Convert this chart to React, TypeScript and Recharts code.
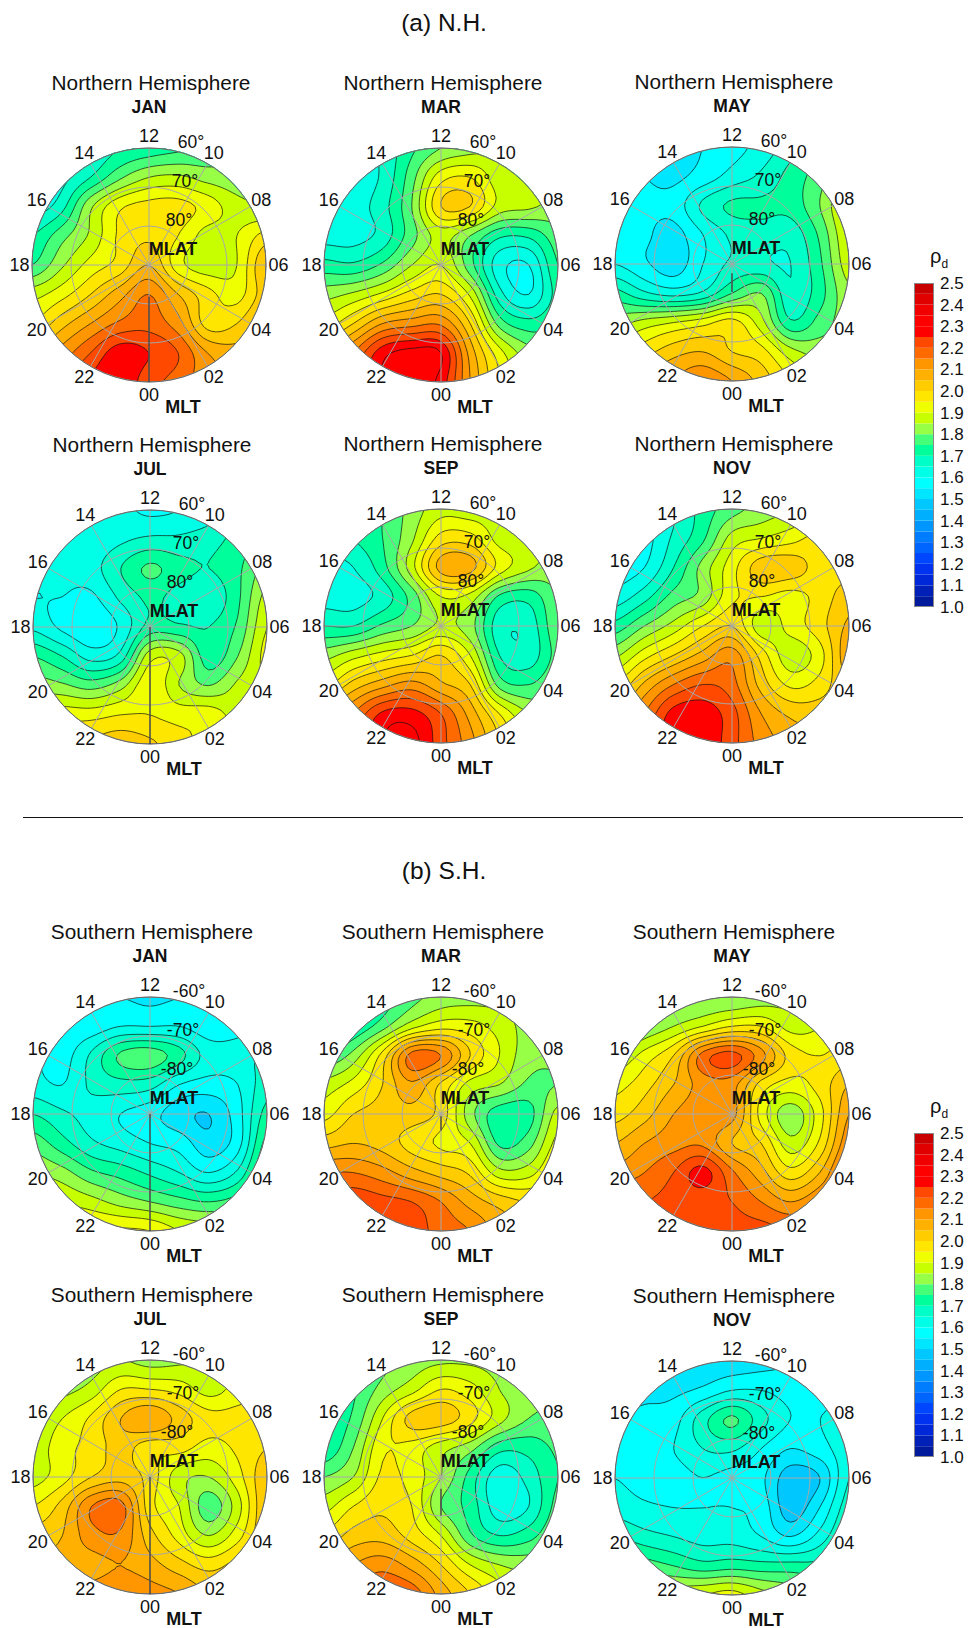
import React from 'react';
import { ScatterChart, Scatter, XAxis, YAxis, RadarChart, Radar, PolarGrid, PolarAngleAxis, PolarRadiusAxis, BarChart, Bar } from 'recharts';

const FONT = '"Liberation Sans", Arial, sans-serif';
const MLT_LABELS = ['12', '14', '16', '18', '20', '22', '00', '02', '04', '06', '08', '10'];
const LAT_RINGS = [80, 70, 60];
const BAR_TICKS = [1, 1.1, 1.2, 1.3, 1.4, 1.5, 1.6, 1.7, 1.8, 1.9, 2, 2.1, 2.2, 2.3, 2.4, 2.5];
const BAND_COLORS = ['#001a9b', '#0020b8', '#0028d8', '#0032f0', '#0046ff', '#0064ff', '#007dff', '#0096ff', '#00b0ff', '#00c8ff', '#00e6ff', '#00ffff', '#00ffe6', '#00ffc8', '#00ff9b', '#46ff78', '#96ff46', '#c8ff00', '#f0ff00', '#ffe600', '#ffcc00', '#ffb000', '#ff9600', '#ff6a00', '#ff4800', '#ff0000', '#ff0000', '#f00000', '#e00000', '#c80000'];

// Value grids: rows from MLT 12 side to MLT 00 side, columns from MLT 18 side to MLT 06 side.
const N_JAN = [
  [1.55, 1.6, 1.65, 1.7, 1.72, 1.74, 1.76, 1.8, 1.85],
  [1.58, 1.63, 1.7, 1.79, 1.85, 1.86, 1.83, 1.82, 1.85],
  [1.62, 1.68, 1.84, 1.94, 1.97, 1.97, 1.93, 1.87, 1.85],
  [1.7, 1.78, 1.86, 1.96, 1.99, 1.95, 1.88, 1.9, 1.97],
  [1.75, 1.84, 1.92, 1.97, 2.05, 1.92, 1.87, 1.9, 2.05],
  [1.88, 1.93, 2.0, 2.08, 2.15, 2.05, 1.97, 1.93, 2.03],
  [1.95, 2.03, 2.1, 2.16, 2.18, 2.12, 1.98, 2.0, 2.08],
  [2.05, 2.12, 2.2, 2.28, 2.25, 2.2, 2.1, 2.07, 2.1],
  [2.12, 2.18, 2.26, 2.29, 2.22, 2.18, 2.12, 2.1, 2.1],
];
const N_MAR = [
  [1.6, 1.62, 1.66, 1.74, 1.8, 1.83, 1.85, 1.85, 1.85],
  [1.62, 1.62, 1.66, 1.78, 1.93, 1.95, 1.87, 1.87, 1.85],
  [1.63, 1.63, 1.68, 1.8, 2.0, 2.0, 1.88, 1.86, 1.83],
  [1.63, 1.63, 1.67, 1.78, 1.87, 1.8, 1.71, 1.71, 1.78],
  [1.72, 1.71, 1.76, 1.85, 1.9, 1.77, 1.62, 1.6, 1.75],
  [1.83, 1.86, 1.91, 1.97, 2.0, 1.89, 1.67, 1.6, 1.72],
  [1.92, 2.0, 2.1, 2.13, 2.14, 2.0, 1.78, 1.72, 1.75],
  [2.05, 2.15, 2.28, 2.32, 2.3, 2.08, 1.92, 1.82, 1.8],
  [2.1, 2.2, 2.3, 2.34, 2.28, 2.1, 1.95, 1.85, 1.8],
];
const N_MAY = [
  [1.54, 1.54, 1.54, 1.55, 1.58, 1.62, 1.68, 1.76, 1.9],
  [1.55, 1.55, 1.54, 1.57, 1.62, 1.66, 1.72, 1.78, 1.88],
  [1.56, 1.56, 1.57, 1.66, 1.71, 1.71, 1.72, 1.8, 1.92],
  [1.57, 1.56, 1.53, 1.6, 1.66, 1.68, 1.67, 1.76, 1.9],
  [1.6, 1.56, 1.52, 1.6, 1.66, 1.66, 1.65, 1.74, 1.88],
  [1.72, 1.66, 1.63, 1.66, 1.75, 1.8, 1.66, 1.73, 1.84],
  [1.83, 1.87, 1.9, 1.93, 1.97, 1.87, 1.71, 1.77, 1.83],
  [1.93, 1.98, 2.03, 2.05, 2.0, 1.97, 1.87, 1.83, 1.83],
  [2.0, 2.05, 2.1, 2.14, 2.1, 2.03, 1.95, 1.88, 1.85],
];
const N_JUL = [
  [1.6, 1.6, 1.6, 1.61, 1.59, 1.6, 1.62, 1.7, 1.78],
  [1.62, 1.6, 1.61, 1.64, 1.66, 1.66, 1.68, 1.72, 1.78],
  [1.62, 1.61, 1.63, 1.7, 1.76, 1.72, 1.7, 1.74, 1.82],
  [1.6, 1.6, 1.59, 1.66, 1.71, 1.68, 1.66, 1.74, 1.87],
  [1.64, 1.59, 1.56, 1.61, 1.72, 1.71, 1.7, 1.76, 1.9],
  [1.75, 1.7, 1.63, 1.67, 1.88, 1.87, 1.72, 1.8, 1.92],
  [1.83, 1.81, 1.78, 1.83, 1.94, 1.85, 1.8, 1.86, 1.9],
  [1.92, 1.93, 1.93, 1.95, 1.95, 1.93, 1.93, 1.88, 1.88],
  [1.96, 1.98, 2.01, 2.03, 2.01, 1.97, 1.93, 1.9, 1.88],
];
const N_SEP = [
  [1.65, 1.7, 1.75, 1.82, 1.88, 1.87, 1.87, 1.85, 1.82],
  [1.67, 1.7, 1.75, 1.84, 1.97, 1.97, 1.88, 1.87, 1.84],
  [1.63, 1.65, 1.73, 1.88, 2.07, 2.07, 1.93, 1.86, 1.82],
  [1.63, 1.63, 1.67, 1.77, 1.9, 1.88, 1.74, 1.72, 1.8],
  [1.7, 1.7, 1.76, 1.8, 1.86, 1.82, 1.67, 1.67, 1.79],
  [1.83, 1.88, 1.92, 1.95, 2.0, 1.9, 1.7, 1.67, 1.77],
  [1.93, 2.02, 2.08, 2.12, 2.06, 2.0, 1.78, 1.75, 1.8],
  [2.05, 2.15, 2.26, 2.27, 2.2, 2.08, 1.95, 1.85, 1.83],
  [2.1, 2.2, 2.3, 2.32, 2.22, 2.12, 2.0, 1.9, 1.85],
];
const N_NOV = [
  [1.55, 1.58, 1.64, 1.72, 1.78, 1.82, 1.85, 1.88, 1.92],
  [1.57, 1.58, 1.66, 1.74, 1.87, 1.9, 1.93, 1.97, 1.97],
  [1.57, 1.6, 1.7, 1.82, 1.93, 2.03, 2.03, 1.98, 1.98],
  [1.62, 1.68, 1.77, 1.82, 1.94, 1.95, 1.93, 1.97, 2.03],
  [1.72, 1.8, 1.87, 1.95, 2.0, 1.87, 1.92, 1.98, 2.06],
  [1.84, 1.93, 2.0, 2.07, 2.13, 1.98, 1.87, 1.93, 2.09],
  [1.95, 2.06, 2.15, 2.2, 2.17, 2.03, 1.94, 1.97, 2.05],
  [2.05, 2.15, 2.27, 2.28, 2.22, 2.1, 2.04, 2.03, 2.05],
  [2.12, 2.2, 2.28, 2.29, 2.22, 2.13, 2.08, 2.05, 2.05],
];
const S_JAN = [
  [1.53, 1.54, 1.55, 1.55, 1.54, 1.55, 1.56, 1.58, 1.6],
  [1.55, 1.56, 1.57, 1.6, 1.6, 1.6, 1.57, 1.58, 1.62],
  [1.6, 1.58, 1.66, 1.76, 1.78, 1.72, 1.63, 1.63, 1.66],
  [1.62, 1.6, 1.66, 1.68, 1.67, 1.6, 1.58, 1.6, 1.68],
  [1.7, 1.66, 1.63, 1.6, 1.57, 1.52, 1.5, 1.58, 1.72],
  [1.78, 1.72, 1.66, 1.63, 1.6, 1.58, 1.52, 1.58, 1.77],
  [1.85, 1.82, 1.76, 1.73, 1.69, 1.65, 1.6, 1.66, 1.82],
  [1.93, 1.9, 1.87, 1.83, 1.8, 1.77, 1.75, 1.78, 1.87],
  [2.0, 1.97, 1.96, 1.96, 1.95, 1.9, 1.88, 1.87, 1.88],
];
const S_MAR = [
  [1.6, 1.65, 1.72, 1.78, 1.82, 1.83, 1.83, 1.82, 1.82],
  [1.65, 1.7, 1.78, 1.88, 1.93, 1.92, 1.88, 1.83, 1.82],
  [1.75, 1.82, 1.97, 2.17, 2.15, 2.0, 1.9, 1.82, 1.81],
  [1.87, 1.92, 2.0, 2.09, 1.99, 1.88, 1.85, 1.79, 1.8],
  [1.93, 2.0, 2.02, 2.03, 1.98, 1.82, 1.72, 1.73, 1.87],
  [2.03, 2.05, 2.03, 1.98, 1.94, 1.9, 1.74, 1.78, 1.92],
  [2.15, 2.15, 2.12, 2.07, 2.03, 1.99, 1.87, 1.88, 1.97],
  [2.22, 2.24, 2.22, 2.2, 2.15, 2.08, 2.03, 2.0, 2.02],
  [2.27, 2.28, 2.27, 2.23, 2.18, 2.15, 2.08, 2.05, 2.05],
];
const S_MAY = [
  [1.7, 1.75, 1.78, 1.8, 1.8, 1.82, 1.84, 1.88, 1.92],
  [1.75, 1.8, 1.85, 1.9, 1.95, 1.95, 1.88, 1.9, 1.95],
  [1.85, 1.92, 2.0, 2.17, 2.22, 2.12, 1.98, 1.95, 1.98],
  [1.93, 1.98, 2.05, 2.12, 2.12, 1.98, 1.93, 1.97, 2.05],
  [1.98, 2.03, 2.1, 2.13, 2.12, 1.93, 1.82, 1.93, 2.1],
  [2.05, 2.1, 2.13, 2.14, 2.05, 2.0, 1.87, 1.96, 2.14],
  [2.12, 2.15, 2.2, 2.27, 2.16, 2.07, 1.97, 2.05, 2.2],
  [2.2, 2.2, 2.22, 2.22, 2.2, 2.15, 2.1, 2.15, 2.22],
  [2.22, 2.23, 2.24, 2.24, 2.22, 2.22, 2.2, 2.2, 2.22],
];
const S_JUL = [
  [1.75, 1.78, 1.82, 1.85, 1.83, 1.84, 1.86, 1.9, 1.92],
  [1.8, 1.83, 1.87, 1.95, 1.95, 1.93, 1.88, 1.92, 1.95],
  [1.85, 1.9, 1.96, 2.05, 2.1, 2.03, 1.97, 1.97, 1.98],
  [1.87, 1.93, 1.97, 2.02, 1.97, 1.97, 1.93, 1.96, 2.0],
  [1.88, 1.93, 2.0, 2.03, 1.98, 1.87, 1.85, 1.93, 2.04],
  [1.95, 2.02, 2.15, 2.17, 1.97, 1.9, 1.77, 1.88, 2.05],
  [2.02, 2.05, 2.13, 2.14, 2.02, 1.93, 1.85, 1.93, 2.05],
  [2.06, 2.07, 2.08, 2.1, 2.07, 2.02, 1.98, 2.02, 2.06],
  [2.08, 2.1, 2.12, 2.14, 2.12, 2.1, 2.05, 2.05, 2.06],
];
const S_SEP = [
  [1.7, 1.72, 1.78, 1.82, 1.84, 1.84, 1.83, 1.82, 1.82],
  [1.7, 1.74, 1.82, 1.88, 1.95, 1.92, 1.85, 1.82, 1.81],
  [1.71, 1.76, 1.9, 2.02, 2.03, 1.97, 1.87, 1.8, 1.79],
  [1.71, 1.8, 1.94, 1.93, 1.87, 1.82, 1.72, 1.72, 1.76],
  [1.8, 1.85, 1.96, 1.93, 1.85, 1.73, 1.62, 1.67, 1.75],
  [1.88, 1.95, 1.99, 1.95, 1.8, 1.73, 1.62, 1.65, 1.77],
  [1.96, 2.02, 2.03, 1.98, 1.9, 1.76, 1.7, 1.73, 1.8],
  [2.05, 2.1, 2.13, 2.08, 2.0, 1.9, 1.85, 1.83, 1.83],
  [2.1, 2.15, 2.2, 2.18, 2.08, 2.0, 1.92, 1.86, 1.84],
];
const S_NOV = [
  [1.5, 1.52, 1.52, 1.52, 1.52, 1.53, 1.55, 1.58, 1.6],
  [1.53, 1.54, 1.54, 1.56, 1.6, 1.6, 1.58, 1.58, 1.6],
  [1.56, 1.56, 1.58, 1.68, 1.76, 1.67, 1.6, 1.6, 1.63],
  [1.58, 1.57, 1.6, 1.65, 1.66, 1.6, 1.55, 1.58, 1.63],
  [1.6, 1.58, 1.58, 1.6, 1.58, 1.56, 1.47, 1.5, 1.65],
  [1.63, 1.61, 1.6, 1.6, 1.6, 1.58, 1.47, 1.55, 1.68],
  [1.7, 1.67, 1.65, 1.63, 1.63, 1.6, 1.55, 1.62, 1.72],
  [1.82, 1.78, 1.75, 1.72, 1.73, 1.72, 1.72, 1.72, 1.78],
  [1.9, 1.88, 1.88, 1.9, 1.92, 1.87, 1.83, 1.8, 1.8],
];

type Panel = { title: string; month: string; grid: number[][]; cx: number; cy: number; seam: number[] | null; south: boolean };
const N_T = 'Northern Hemisphere';
const S_T = 'Southern Hemisphere';
const PANELS: Panel[] = [
  { title: N_T, month: 'JAN', grid: N_JAN, cx: 149, cy: 264.5, seam: [0.27, 1], south: false },
  { title: N_T, month: 'MAR', grid: N_MAR, cx: 441, cy: 264.5, seam: null, south: false },
  { title: N_T, month: 'MAY', grid: N_MAY, cx: 732, cy: 264, seam: [0.08, 0.24], south: false },
  { title: N_T, month: 'JUL', grid: N_JUL, cx: 150, cy: 627, seam: [0, 1], south: false },
  { title: N_T, month: 'SEP', grid: N_SEP, cx: 441, cy: 626, seam: null, south: false },
  { title: N_T, month: 'NOV', grid: N_NOV, cx: 732, cy: 626, seam: null, south: false },
  { title: S_T, month: 'JAN', grid: S_JAN, cx: 150, cy: 1114, seam: [0, 1], south: true },
  { title: S_T, month: 'MAR', grid: S_MAR, cx: 441, cy: 1114, seam: [0.02, 0.14], south: true },
  { title: S_T, month: 'MAY', grid: S_MAY, cx: 732, cy: 1114, seam: null, south: true },
  { title: S_T, month: 'JUL', grid: S_JUL, cx: 150, cy: 1477, seam: [0, 1], south: true },
  { title: S_T, month: 'SEP', grid: S_SEP, cx: 441, cy: 1477, seam: [0.1, 0.33], south: true },
  { title: S_T, month: 'NOV', grid: S_NOV, cx: 732, cy: 1478, seam: null, south: true },
];

const R = 117;
const SUB = 7;

function cat(a: number, b: number, c: number, d: number, t: number) {
  return 0.5 * (2 * b + (c - a) * t + (2 * a - 5 * b + 4 * c - d) * t * t + (3 * b - a - 3 * c + d) * t * t * t);
}
function refine(g: number[][]) {
  const n = g.length;
  const m = (n - 1) * SUB + 1;
  const at = (r: number, c: number) => g[Math.max(0, Math.min(n - 1, r))][Math.max(0, Math.min(n - 1, c))];
  const out: number[][] = [];
  for (let j = 0; j < m; j++) {
    const rj = Math.min(Math.floor(j / SUB), n - 2);
    const tj = j / SUB - rj;
    const row: number[] = [];
    for (let i = 0; i < m; i++) {
      const ci = Math.min(Math.floor(i / SUB), n - 2);
      const ti = i / SUB - ci;
      const v = [-1, 0, 1, 2].map((dr) => cat(at(rj + dr, ci - 1), at(rj + dr, ci), at(rj + dr, ci + 1), at(rj + dr, ci + 2), ti));
      row.push(cat(v[0], v[1], v[2], v[3], tj));
    }
    out.push(row);
  }
  return out;
}

type Shape = { color: string; pts: { x: number; y: number }[]; area: number };
function bandShapes(g: number[][]): Shape[] {
  const f0 = refine(g);
  const m = f0.length;
  const W = m + 2;
  const LOW = -10;
  const F: number[][] = [];
  for (let j = 0; j < W; j++) {
    const row: number[] = [];
    for (let i = 0; i < W; i++) row.push(i === 0 || j === 0 || i === W - 1 || j === W - 1 ? LOW : f0[j - 1][i - 1]);
    F.push(row);
  }
  let min = Infinity;
  let max = -Infinity;
  f0.forEach((r) => r.forEach((v) => { if (v < min) min = v; if (v > max) max = v; }));
  const k0 = Math.max(0, Math.floor((min - 1.001) / 0.05));
  const k1 = Math.min(29, Math.floor((max - 1) / 0.05));
  const shapes: Shape[] = [];
  for (let k = k0; k <= k1; k++) {
    // A tiny offset keeps a level from passing exactly through a grid node.
    const L = 1 + 0.05 * k + 0.00037;
    const next = new Map<number, { to: number; p: number[] }>();
    for (let j = 0; j < W - 1; j++) {
      for (let i = 0; i < W - 1; i++) {
        const tl = F[j][i], tr = F[j][i + 1], br = F[j + 1][i + 1], bl = F[j + 1][i];
        const c = (tl >= L ? 8 : 0) + (tr >= L ? 4 : 0) + (br >= L ? 2 : 0) + (bl >= L ? 1 : 0);
        if (c === 0 || c === 15) continue;
        const pt = (e: string): number[] => {
          if (e === 'T') return [i + (L - tl) / (tr - tl), j];
          if (e === 'B') return [i + (L - bl) / (br - bl), j + 1];
          if (e === 'L') return [i, j + (L - tl) / (bl - tl)];
          return [i + 1, j + (L - tr) / (br - tr)];
        };
        const key = (e: string): number => {
          if (e === 'T') return 2 * (j * W + i);
          if (e === 'B') return 2 * ((j + 1) * W + i);
          if (e === 'L') return 2 * (j * W + i) + 1;
          return 2 * (j * W + i + 1) + 1;
        };
        const corner: Record<string, number[]> = { a: [i, j], b: [i + 1, j], c: [i + 1, j + 1], d: [i, j + 1] };
        const table: Record<number, string[]> = {
          1: ['LBd'], 2: ['BRc'], 3: ['LRd'], 4: ['TRb'], 5: ['TRb', 'LBd'], 6: ['TBb'], 7: ['TLa'],
          8: ['TLa'], 9: ['TBa'], 10: ['TLa', 'BRc'], 11: ['TRb'], 12: ['LRa'], 13: ['BRc'], 14: ['LBd'],
        };
        const highOf: Record<string, boolean> = { a: tl >= L, b: tr >= L, c: br >= L, d: bl >= L };
        table[c].forEach((s) => {
          let A = s[0];
          let B = s[1];
          const ref = corner[s[2]];
          const pa = pt(A);
          const pb = pt(B);
          const cr = (pb[0] - pa[0]) * (ref[1] - pa[1]) - (pb[1] - pa[1]) * (ref[0] - pa[0]);
          if (cr > 0 !== highOf[s[2]]) { const t = A; A = B; B = t; }
          next.set(key(A), { to: key(B), p: pt(A) });
        });
      }
    }
    const used = new Set<number>();
    next.forEach((_, start) => {
      if (used.has(start)) return;
      const raw: number[][] = [];
      let cur = start;
      while (!used.has(cur) && next.has(cur)) {
        used.add(cur);
        const e = next.get(cur)!;
        raw.push(e.p);
        cur = e.to;
      }
      let a = 0;
      for (let q = 0; q < raw.length; q++) {
        const u = raw[q];
        const v = raw[(q + 1) % raw.length];
        a += u[0] * v[1] - v[0] * u[1];
      }
      const toXY = (p: number[]) => ({
        x: Math.max(-1, Math.min(1, -1 + ((p[0] - 1) * 2) / (m - 1))),
        y: Math.max(-1, Math.min(1, 1 - ((p[1] - 1) * 2) / (m - 1))),
      });
      const pts = raw.map(toXY);
      if (pts.length < 3) return;
      pts.push(pts[0]);
      const band = a > 0 ? k : k - 1;
      shapes.push({ color: BAND_COLORS[Math.max(0, band)], pts, area: Math.abs(a) });
    });
  }
  shapes.sort((p, q) => q.area - p.area);
  return shapes;
}

const NoDot = () => null;

function Field({ p }: { p: Panel }) {
  const shapes = React.useMemo(() => bandShapes(p.grid), [p]);
  return (
    <div style={{ position: 'absolute', left: p.cx - R, top: p.cy - R, width: 2 * R, height: 2 * R, clipPath: `circle(${R}px at ${R}px ${R}px)` }}>
      <ScatterChart width={2 * R} height={2 * R} margin={{ top: 0, right: 0, bottom: 0, left: 0 }}>
        <XAxis type="number" dataKey="x" domain={[-1, 1]} allowDataOverflow hide />
        <YAxis type="number" dataKey="y" domain={[-1, 1]} allowDataOverflow hide />
        {shapes.map((s, i) => (
          <Scatter key={i} data={s.pts} fill={s.color} line={{ fill: s.color, stroke: '#111', strokeWidth: 0.7 }} shape={NoDot} isAnimationActive={false} />
        ))}
      </ScatterChart>
    </div>
  );
}

function Seam({ p }: { p: Panel }) {
  if (!p.seam) return null;
  return (
    <div style={{ position: 'absolute', left: p.cx - R, top: p.cy - R, width: 2 * R, height: 2 * R }}>
      <ScatterChart width={2 * R} height={2 * R} margin={{ top: 0, right: 0, bottom: 0, left: 0 }}>
        <XAxis type="number" dataKey="x" domain={[-1, 1]} allowDataOverflow hide />
        <YAxis type="number" dataKey="y" domain={[-1, 1]} allowDataOverflow hide />
        <Scatter data={[{ x: 0, y: -p.seam[0] }, { x: 0, y: -p.seam[1] }]} fill="none" line={{ stroke: '#333', strokeWidth: 1.2, fill: 'none' }} shape={NoDot} isAnimationActive={false} />
      </ScatterChart>
    </div>
  );
}

const OV = 150;
const MltTick = (props: any) => {
  const dx = props.x - OV;
  const dy = props.y - OV;
  const n = Math.hypot(dx, dy) || 1;
  return (
    <text x={OV + (dx / n) * 129.5} y={OV + (dy / n) * 129.5} textAnchor="middle" dominantBaseline="central" fontFamily={FONT} fontSize={18} fill="#111">
      {props.payload.value}
    </text>
  );
};

function Grid({ p }: { p: Panel }) {
  const data = MLT_LABELS.map((m) => ({ mlt: m, v: 0 }));
  const rings = LAT_RINGS.map((lat) => ((90 - lat) / 30) * R);
  return (
    <div style={{ position: 'absolute', left: p.cx - OV, top: p.cy - OV, width: 2 * OV, height: 2 * OV }}>
      <RadarChart width={2 * OV} height={2 * OV} cx={OV} cy={OV} outerRadius={R} data={data} startAngle={120} endAngle={480} margin={{ top: 0, right: 0, bottom: 0, left: 0 }}>
        <PolarGrid gridType="circle" polarRadius={rings} stroke="#a8a8a8" strokeWidth={1} />
        <PolarGrid gridType="circle" polarRadius={[R]} radialLines={false} stroke="#666" strokeWidth={1} />
        <PolarAngleAxis dataKey="mlt" tick={MltTick} tickLine={false} axisLine={false} />
        <PolarRadiusAxis domain={[0, 1]} tick={false} axisLine={false} />
        <Radar dataKey="v" stroke="none" fill="none" isAnimationActive={false} />
      </RadarChart>
    </div>
  );
}

function Label({ x, y, text, size, bold }: { x: number; y: number; text: string; size: number; bold?: boolean }) {
  return (
    <div style={{ position: 'absolute', left: x, top: y, transform: 'translate(-50%,-50%)', whiteSpace: 'nowrap', fontFamily: FONT, fontSize: size, fontWeight: bold ? 'bold' : 'normal', color: '#111', lineHeight: 1 }}>
      {text}
    </div>
  );
}

function PanelView({ p }: { p: Panel }) {
  const pre = p.south ? '-' : '';
  const off = p.south ? -3 : 0;
  return (
    <>
      <Field p={p} />
      <Grid p={p} />
      <Seam p={p} />
      <Label x={p.cx + 2} y={p.cy - 182} text={p.title} size={20.8} />
      <Label x={p.cx} y={p.cy - 157} text={p.month} size={17.5} bold />
      <Label x={p.cx + 24} y={p.cy - 16} text="MLAT" size={18} bold />
      <Label x={p.cx + 34} y={p.cy + 142} text="MLT" size={18} bold />
      <Label x={p.cx + 42 + off} y={p.cy - 122} text={`${pre}60°`} size={17.5} />
      <Label x={p.cx + 36 + off} y={p.cy - 83} text={`${pre}70°`} size={17.5} />
      <Label x={p.cx + 30 + off} y={p.cy - 44} text={`${pre}80°`} size={17.5} />
    </>
  );
}

function ColorBar({ top }: { top: number }) {
  const row: Record<string, number | string> = { c: 'rho', base: 1 };
  BAND_COLORS.forEach((_, i) => { row[`b${i}`] = 0.05; });
  return (
    <>
      <div style={{ position: 'absolute', left: 930, top: top - 38, fontFamily: FONT, fontSize: 20, color: '#111', whiteSpace: 'nowrap' }}>
        ρ<span style={{ fontSize: 12, verticalAlign: 'sub' }}>d</span>
      </div>
      <div style={{ position: 'absolute', left: 904, top: top - 12 }}>
        <BarChart width={73} height={348} data={[row]} barCategoryGap={0} margin={{ top: 12, right: 10, bottom: 12, left: 10 }}>
          <XAxis dataKey="c" hide />
          <YAxis orientation="right" type="number" domain={[1, 2.5]} allowDataOverflow ticks={BAR_TICKS} interval={0} width={33} tickLine={false} axisLine={false} tickMargin={0}
            tickFormatter={(v: number) => v.toFixed(1)} tick={{ fontFamily: FONT, fontSize: 17, fill: '#111' }} />
          <Bar dataKey="base" stackId="s" fill="none" isAnimationActive={false} />
          {BAND_COLORS.map((col, i) => (
            <Bar key={i} dataKey={`b${i}`} stackId="s" fill={col} isAnimationActive={false} />
          ))}
        </BarChart>
      </div>
      <div style={{ position: 'absolute', left: 914, top, width: 20, height: 324, boxSizing: 'border-box', border: '1px solid #888' }} />
    </>
  );
}

export default function App() {
  return (
    <div style={{ position: 'absolute', left: 0, top: 0, width: 977, height: 1628, background: '#fff', overflow: 'hidden' }}>
      <Label x={444} y={23} text="(a) N.H." size={24.5} />
      <Label x={444} y={871} text="(b) S.H." size={24.5} />
      <div style={{ position: 'absolute', left: 23, top: 817, width: 940, height: 1, background: '#111' }} />
      {PANELS.map((p, i) => <PanelView key={i} p={p} />)}
      <ColorBar top={283} />
      <ColorBar top={1133} />
    </div>
  );
}
